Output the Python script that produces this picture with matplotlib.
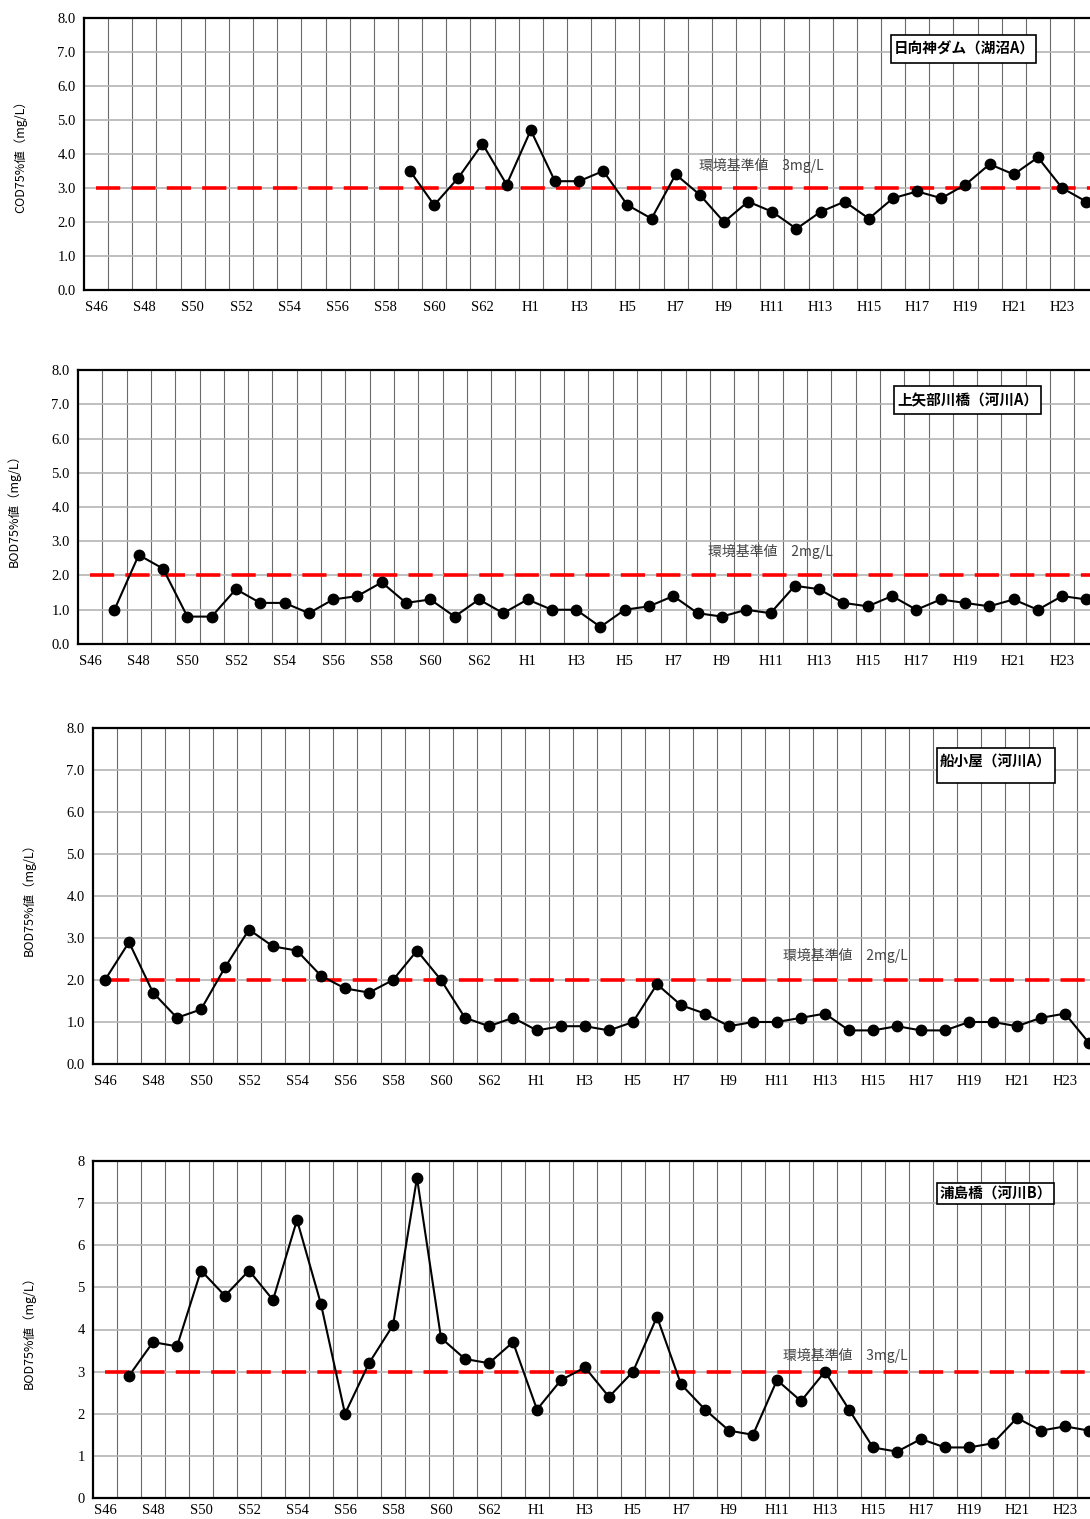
import numpy as np
import matplotlib.pyplot as plt
from matplotlib.patches import Rectangle

plt.rcParams['font.family'] = ['Liberation Serif', 'Noto Sans CJK JP']

years = ["S%d" % y for y in range(46, 64)] + ["H%d" % y for y in range(1, 25)]
tick_labels = [lab if i % 2 == 0 else "" for i, lab in enumerate(years)]

# 日向神ダム COD75% (S59-H24)
hyugami = [None] * 13 + [3.5, 2.5, 3.3, 4.3, 3.1, 4.7, 3.2, 3.2, 3.5, 2.5, 2.1, 3.4, 2.8, 2.0,
                         2.6, 2.3, 1.8, 2.3, 2.6, 2.1, 2.7, 2.9, 2.7, 3.1, 3.7, 3.4, 3.9, 3.0, 2.6]
# 上矢部川橋 BOD75% (S47-H24)
kamiyabe = [None, 1.0, 2.6, 2.2, 0.8, 0.8, 1.6, 1.2, 1.2, 0.9, 1.3, 1.4, 1.8, 1.2, 1.3, 0.8,
            1.3, 0.9, 1.3, 1.0, 1.0, 0.5, 1.0, 1.1, 1.4, 0.9, 0.8, 1.0, 0.9, 1.7, 1.6, 1.2,
            1.1, 1.4, 1.0, 1.3, 1.2, 1.1, 1.3, 1.0, 1.4, 1.3]
# 船小屋 BOD75% (S46-H24)
funagoya = [2.0, 2.9, 1.7, 1.1, 1.3, 2.3, 3.2, 2.8, 2.7, 2.1, 1.8, 1.7, 2.0, 2.7, 2.0, 1.1,
            0.9, 1.1, 0.8, 0.9, 0.9, 0.8, 1.0, 1.9, 1.4, 1.2, 0.9, 1.0, 1.0, 1.1, 1.2, 0.8,
            0.8, 0.9, 0.8, 0.8, 1.0, 1.0, 0.9, 1.1, 1.2, 0.5]
# 浦島橋 BOD75% (S47-H24)
urashima = [None, 2.9, 3.7, 3.6, 5.4, 4.8, 5.4, 4.7, 6.6, 4.6, 2.0, 3.2, 4.1, 7.6, 3.8, 3.3,
            3.2, 3.7, 2.1, 2.8, 3.1, 2.4, 3.0, 4.3, 2.7, 2.1, 1.6, 1.5, 2.8, 2.3, 3.0, 2.1,
            1.2, 1.1, 1.4, 1.2, 1.2, 1.3, 1.9, 1.6, 1.7, 1.6]

panels = [
    dict(data=hyugami, std=3, ylabel="COD75%値（mg/L）", title="日向神ダム（湖沼A）",
         box=(84, 18, 290, 24.15), tbox=(891, 35, 1036, 63), std_xy=(699, 165), fmt="%.1f", xpad=8),
    dict(data=kamiyabe, std=2, ylabel="BOD75%値（mg/L）", title="上矢部川橋（河川A）",
         box=(78, 370, 644, 24.3), tbox=(894, 386, 1041, 414), std_xy=(708, 551), fmt="%.1f", xpad=8),
    dict(data=funagoya, std=2, ylabel="BOD75%値（mg/L）", title="船小屋（河川A）",
         box=(93, 728, 1064, 24.0), tbox=(937, 748, 1055, 783), std_xy=(783, 955), fmt="%.1f", xpad=8),
    dict(data=urashima, std=3, ylabel="BOD75%値（mg/L）", title="浦島橋（河川B）",
         box=(93, 1161, 1498, 24.0), tbox=(937, 1183, 1054, 1204), std_xy=(783, 1355), fmt="%d", xpad=4),
]
ylabel_x = [20, 14, 29, 29]

W, H = 1090, 1519
fig = plt.figure(figsize=(W / 100, H / 100), dpi=100)
n = len(years)
x = np.arange(n)

for p, ylx in zip(panels, ylabel_x):
    left, top, bottom, step = p["box"]
    ax = fig.add_axes([left / W, 1 - bottom / H, n * step / W, (bottom - top) / H])
    ax.set_xlim(-0.5, n - 0.5)
    ax.set_ylim(0, 8)

    ax.set_xticks(x)
    ax.set_xticklabels(tick_labels, fontsize=10.5)
    ax.set_xticks(np.arange(n) + 0.5, minor=True)
    ax.set_yticks(np.arange(0, 9))
    ax.set_yticklabels([p["fmt"] % v for v in range(9)], fontsize=10.5)
    ax.tick_params(which="both", length=0, pad=6)
    ax.tick_params(axis="x", pad=p["xpad"])
    ax.grid(True, which="minor", axis="x", color="#6a6a6a", lw=0.8)
    ax.grid(True, which="major", axis="y", color="#b4b4b4", lw=1.2)
    for s in ax.spines.values():
        s.set_linewidth(1.6)
        s.set_color("black")

    line, = ax.plot([0, n + 2], [p["std"], p["std"]], color="#ff0000", lw=2.6, zorder=3)
    line.set_dashes((6.7, 3.1))

    vals = np.array([np.nan if v is None else v for v in p["data"]], dtype=float)
    ax.plot(x, vals, color="black", lw=1.5, marker="o", ms=7.5, zorder=4)

    x0, y0, x1, y1 = p["tbox"]
    fig.patches.append(Rectangle((x0 / W, 1 - y1 / H), (x1 - x0) / W, (y1 - y0) / H,
                                 transform=fig.transFigure, fc="white", ec="black", lw=1.2,
                                 zorder=5))
    ty = y0 + 14 if (y1 - y0) > 30 else (y0 + y1) / 2
    fig.text((x0 + 3) / W, 1 - ty / H, p["title"], family=["Noto Sans CJK JP"],
             fontsize=10.5, fontweight="bold", va="center", ha="left", zorder=6)
    fig.text(p["std_xy"][0] / W, 1 - p["std_xy"][1] / H, "環境基準値　" + "%dmg/L" % p["std"],
             family=["Noto Sans CJK JP"], fontsize=10, color="#444444", va="center", ha="left")
    fig.text(ylx / W, 1 - (top + bottom) / 2 / H, p["ylabel"], rotation=90,
             family=["Noto Sans CJK JP"], fontsize=9, va="center", ha="center")

fig.savefig("out.png", dpi=100)
